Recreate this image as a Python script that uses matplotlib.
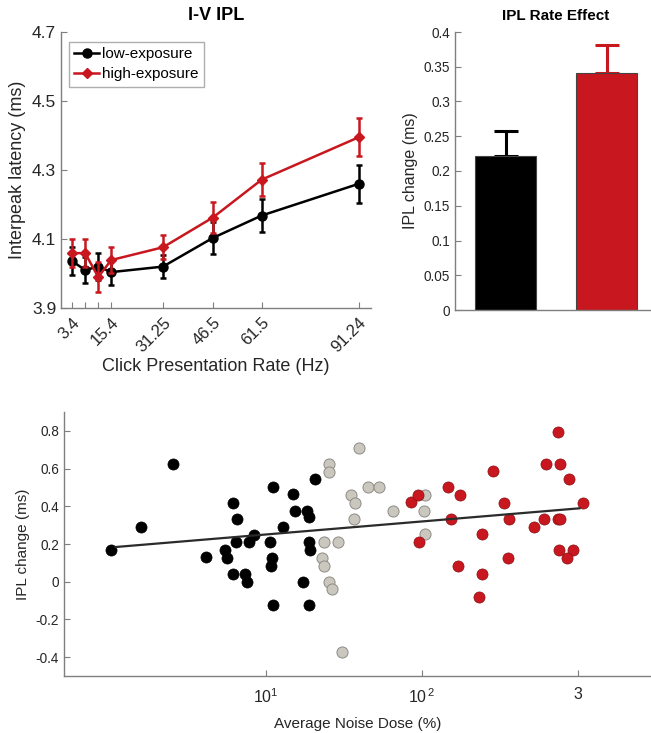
import numpy as np
import matplotlib
matplotlib.use("Agg")
import matplotlib.pyplot as plt
from matplotlib.lines import Line2D

plt.rcParams['font.family'] = ['Liberation Sans', 'DejaVu Sans']
plt.rcParams['mathtext.fontset'] = 'custom'
plt.rcParams['mathtext.rm'] = 'Liberation Sans'
plt.rcParams['mathtext.it'] = 'Liberation Sans'

# ---------------- data ----------------
rates = [3.4, 7.4, 11.4, 15.4, 31.25, 46.5, 61.5, 91.24]
rate_labels = ["3.4", "", "", "15.4", "31.25", "46.5", "61.5", "91.24"]
low_ipl = [4.036, 4.010, 4.020, 4.004, 4.020, 4.103, 4.168, 4.260]
low_err = [0.040, 0.037, 0.040, 0.037, 0.033, 0.046, 0.048, 0.055]
high_ipl = [4.059, 4.059, 3.990, 4.039, 4.076, 4.162, 4.272, 4.395]
high_err = [0.040, 0.040, 0.043, 0.038, 0.035, 0.045, 0.048, 0.055]

bar_groups = ["low-exposure", "high-exposure"]
bar_vals = [0.221, 0.341]
bar_errs = [0.036, 0.041]

low_dose = [1.01, 1.58, 2.55, 4.1, 5.43, 5.6, 6.12, 6.52, 6.43, 6.17, 7.3, 7.59,
            7.74, 8.37, 10.6, 10.9, 10.8, 11.1, 11.1, 12.85, 14.96, 15.4, 18.3,
            18.9, 20.6, 18.9, 19.3, 17.2, 18.8]
low_change = [0.17, 0.29, 0.625, 0.13, 0.17, 0.125, 0.415, 0.335, 0.21, 0.042,
              0.042, 0.0, 0.21, 0.25, 0.21, 0.127, 0.085, 0.5, -0.126, 0.292,
              0.467, 0.377, 0.377, 0.341, 0.543, 0.208, 0.166, 0.0, -0.126]
mid_dose = [25.4, 25.5, 34.9, 37.1, 36.6, 39.8, 23.6, 29.2, 22.9, 23.6, 25.5,
            26.7, 30.7, 45.1, 53.2, 64.9, 105, 103.3, 105]
mid_change = [0.626, 0.584, 0.46, 0.417, 0.334, 0.709, 0.208, 0.208, 0.127,
              0.085, 0.0, -0.04, -0.375, 0.5, 0.5, 0.377, 0.46, 0.377, 0.251]
high_dose = [84.9, 94.2, 95.7, 147.6, 174.6, 154.9, 286.4, 336.5, 364.8, 243.8,
             171.8, 242.7, 231.7, 357.3, 527.2, 608.1, 751.6, 770.9, 623.7,
             774.5, 748.2, 875, 1081, 758.6, 937.6, 859]
high_change = [0.424, 0.46, 0.208, 0.5, 0.46, 0.334, 0.585, 0.417, 0.334, 0.251,
               0.085, 0.042, -0.083, 0.126, 0.292, 0.334, 0.334, 0.334, 0.626,
               0.626, 0.792, 0.543, 0.417, 0.168, 0.168, 0.126]
fit_slope = 0.069       # per decade of dose
fit_intercept = 0.1815  # at dose = 1 %

dose_ticks = [10, 100, 1000]
dose_ticklabels = [r"$10^{1}$", r"$10^{\,2}$", "3"]

# ---------------- style ----------------
RED = '#c8171e'
GRAY_FILL = '#c9c7be'
GRAY_EDGE = '#8e8c86'
SPINE = '#7f7f7f'
TXT = '#262626'

W, H = 651, 733
fig = plt.figure(figsize=(W / 100, H / 100), dpi=100)


def box(l, r, t, b):
    return [l / W, 1 - b / H, (r - l) / W, (b - t) / H]


def style(ax, fs):
    for s in ['top', 'right']:
        ax.spines[s].set_visible(False)
    for s in ['left', 'bottom']:
        ax.spines[s].set_color(SPINE)
        ax.spines[s].set_linewidth(1.0)
    ax.tick_params(direction='in', color=SPINE, labelcolor=TXT, labelsize=fs,
                   length=4, width=0.8)


# ---- panel 1: I-V IPL ----
ax1 = fig.add_axes(box(61, 371, 32, 308))
style(ax1, 12.5)
ax1.errorbar(rates, low_ipl, yerr=low_err, color='black', marker='o', ms=6.5,
             lw=1.8, elinewidth=1.8, capsize=2.2, capthick=1.8, zorder=3)
ax1.errorbar(rates, high_ipl, yerr=high_err, color=RED, marker='D', ms=5,
             lw=1.8, elinewidth=1.8, capsize=2.2, capthick=1.8, zorder=4)
ax1.set_xlim(0, 95)
ax1.set_ylim(3.9, 4.7)
ax1.set_yticks([3.9, 4.1, 4.3, 4.5, 4.7])
ax1.set_yticklabels(["3.9", "4.1", "4.3", "4.5", "4.7"])
ax1.set_xticks(rates)
ax1.set_xticklabels(rate_labels, rotation=45, ha='right', va='top',
                    rotation_mode='anchor')
ax1.tick_params(axis='x', pad=5, labelsize=12)
ax1.set_xlabel('Click Presentation Rate (Hz)', fontsize=13, color=TXT, labelpad=2)
ax1.set_ylabel('Interpeak latency (ms)', fontsize=13, color=TXT, labelpad=4)
ax1.set_title('I-V IPL', fontsize=13, fontweight='bold', pad=9)
handles = [
    Line2D([], [], color='black', marker='o', ms=6.5, lw=1.8),
    Line2D([], [], color=RED, marker='D', ms=5, lw=1.8),
]
leg = ax1.legend(handles, bar_groups, loc='upper left', fontsize=11,
                 frameon=True, fancybox=False, handlelength=1.6,
                 handletextpad=0.2, borderpad=0.35, labelspacing=0.4,
                 bbox_to_anchor=(0.026, 0.964), borderaxespad=0)
leg.get_frame().set_edgecolor('#9a9a9a')
leg.get_frame().set_linewidth(1.0)

# ---- panel 2: IPL Rate Effect ----
ax2 = fig.add_axes(box(455, 657, 32, 310))
style(ax2, 9.8)
xpos = np.arange(1, len(bar_vals) + 1)
ax2.bar(xpos, bar_vals, width=0.6, color=['black', RED], edgecolor='#444444',
        linewidth=0.8, zorder=2)
for xi, v, e, c in zip(xpos, bar_vals, bar_errs, ['black', RED]):
    ax2.errorbar([xi], [v], yerr=[[0], [e]], color=c, lw=2.2, capsize=8.6,
                 capthick=2.2, fmt='none', zorder=1)
ax2.set_xlim(0.5, 2.5)
ax2.set_ylim(0, 0.4)
ax2.set_yticks(np.arange(0, 0.41, 0.05))
ax2.set_yticklabels(["0", "0.05", "0.1", "0.15", "0.2", "0.25", "0.3", "0.35", "0.4"])
ax2.set_xticks([])
ax2.set_ylabel('IPL change (ms)', fontsize=11.5, color=TXT, labelpad=4)
ax2.set_title('IPL Rate Effect', fontsize=11, fontweight='bold', pad=9)

# ---- panel 3: scatter ----
ax3 = fig.add_axes(box(64, 651, 412, 676))
style(ax3, 9.8)
ax3.set_xscale('log')
ms = 64
ax3.scatter(low_dose, low_change, s=ms, color='black', edgecolors='black',
            linewidths=0.5, zorder=3)
ax3.scatter(mid_dose, mid_change, s=ms, color=GRAY_FILL, edgecolors=GRAY_EDGE,
            linewidths=0.7, zorder=3)
ax3.scatter(high_dose, high_change, s=ms, color=RED, edgecolors='#8a1015',
            linewidths=0.5, zorder=3)
all_dose = np.array(low_dose + mid_dose + high_dose)
xl = np.array([all_dose.min() * 1.08, all_dose.max() * 0.95])
ax3.plot(xl, fit_intercept + fit_slope * np.log10(xl), color='#2b2b2b', lw=1.6,
         zorder=4)
ax3.set_xlim(10 ** -0.295, 10 ** 3.47)
ax3.set_ylim(-0.5, 0.9)
ax3.set_yticks([-0.4, -0.2, 0, 0.2, 0.4, 0.6, 0.8])
ax3.set_yticklabels(["-0.4", "-0.2", "0", "0.2", "0.4", "0.6", "0.8"])
ax3.set_xticks(dose_ticks)
ax3.set_xticklabels(dose_ticklabels)
ax3.xaxis.set_minor_locator(matplotlib.ticker.NullLocator())
ax3.tick_params(axis='x', pad=8, labelsize=11.5)
ax3.set_xlabel('Average Noise Dose (%)', fontsize=11, color=TXT, labelpad=8)
ax3.set_ylabel('IPL change (ms)', fontsize=11, color=TXT, labelpad=4)

fig.savefig('out.png', dpi=100)
